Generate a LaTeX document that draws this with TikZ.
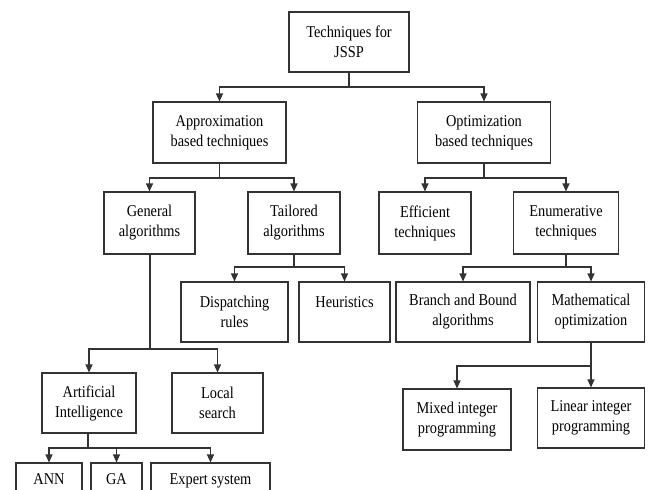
\documentclass[tikz,border=0pt]{standalone}
\usepackage{fontspec}
\setmainfont{Liberation Serif}[FakeStretch=0.87]
\usetikzlibrary{arrows.meta}
\begin{document}
\begin{tikzpicture}[x=1pt,y=-1pt,
  box/.style={draw=black!80,line width=1.1pt,align=center,inner sep=0pt,
    font=\fontsize{16.5}{20}\selectfont,text=black},
  leaf/.style={box,minimum height=0pt,text height=21pt,text depth=39pt},
  conn/.style={draw=black!80,line width=1.1pt},
  arr/.style={conn,-{Triangle[length=8pt,width=7pt]}}]
\clip (0,0) rectangle (651,490);
\fill[white] (0,0) rectangle (651,490);
% level 0
\node[box,minimum width=120pt,minimum height=60pt] (root) at (349,42) {Techniques for\\JSSP};
% level 1
\node[box,minimum width=133pt,minimum height=61pt] (approx) at (219.5,132.5) {Approximation\\based techniques};
\node[box,minimum width=133.5pt,minimum height=61pt] (opt) at (484,132.5) {Optimization\\based techniques};
% level 2
\node[box,minimum width=91pt,minimum height=62pt] (general) at (149.5,223) {General\\algorithms};
\node[box,minimum width=92pt,minimum height=62pt] (tailored) at (294,223) {Tailored\\algorithms};
\node[box,minimum width=92pt,minimum height=62pt] (efficient) at (425,223) {Efficient\\techniques};
\node[box,minimum width=105pt,minimum height=62pt] (enum) at (566,223) {Enumerative\\techniques};
% level 3
\node[box,minimum width=107pt,minimum height=60pt] (dispatch) at (234.5,312) {Dispatching\\rules};
\node[box,minimum width=91pt,minimum height=60pt] (heur) at (344.5,312) {Heuristics\\\mbox{}};
\node[box,minimum width=134pt,minimum height=60pt] (branch) at (463,312) {Branch and Bound\\algorithms};
\node[box,minimum width=107.5pt,minimum height=60pt] (math) at (591,312) {Mathematical\\optimization};
% level 4
\node[box,minimum width=94pt,minimum height=60pt] (ai) at (89,403) {Artificial\\Intelligence};
\node[box,minimum width=91pt,minimum height=60pt] (local) at (217.5,403) {Local\\search};
\node[box,minimum width=108pt,minimum height=61pt] (mixed) at (457,419.5) {Mixed integer\\programming};
\node[box,minimum width=107.5pt,minimum height=60pt] (linear) at (591,418) {Linear integer\\programming};
% level 5
\node[leaf,minimum width=66pt] (ann) at (49,493) {ANN};
\node[leaf,minimum width=51pt] (ga) at (116.5,493) {GA};
\node[leaf,minimum width=119pt] (expert) at (210.5,493) {Expert system};
% junctions
\coordinate (j0) at (349,87);
\coordinate (j1) at (219.5,178);
\coordinate (j2) at (484,178);
\coordinate (j3) at (294,267);
\coordinate (j4) at (566,267);
\coordinate (j5) at (150,349);
\coordinate (j6) at (591,366);
\coordinate (j7) at (88,448);
% connectors
\draw[conn] (root.south) -- (j0);
\draw[arr] (j0) -| (approx.north);
\draw[arr] (j0) -| (opt.north);
\draw[conn] (approx.south) -- (j1);
\draw[arr] (j1) -| (general.north);
\draw[arr] (j1) -| (tailored.north);
\draw[conn] (opt.south) -- (j2);
\draw[arr] (j2) -| (efficient.north);
\draw[arr] (j2) -| (enum.north);
\draw[conn] (tailored.south) -- (j3);
\draw[arr] (j3) -| (dispatch.north);
\draw[arr] (j3) -| (heur.north);
\draw[conn] (enum.south) -- (j4);
\draw[arr] (j4) -| (branch.north);
\draw[arr] (j4) -| (math.north);
\draw[conn] (general.south -| j5) -- (j5);
\draw[arr] (j5) -| (ai.north);
\draw[arr] (j5) -| (local.north);
\draw[conn] (math.south) -- (j6);
\draw[arr] (j6) -| (mixed.north);
\draw[arr] (j6) -- (linear.north);
\draw[conn] (ai.south -| j7) -- (j7);
\draw[arr] (j7) -| (ann.north);
\draw[arr] (j7) -| (ga.north);
\draw[arr] (j7) -| (expert.north);
\end{tikzpicture}
\end{document}
